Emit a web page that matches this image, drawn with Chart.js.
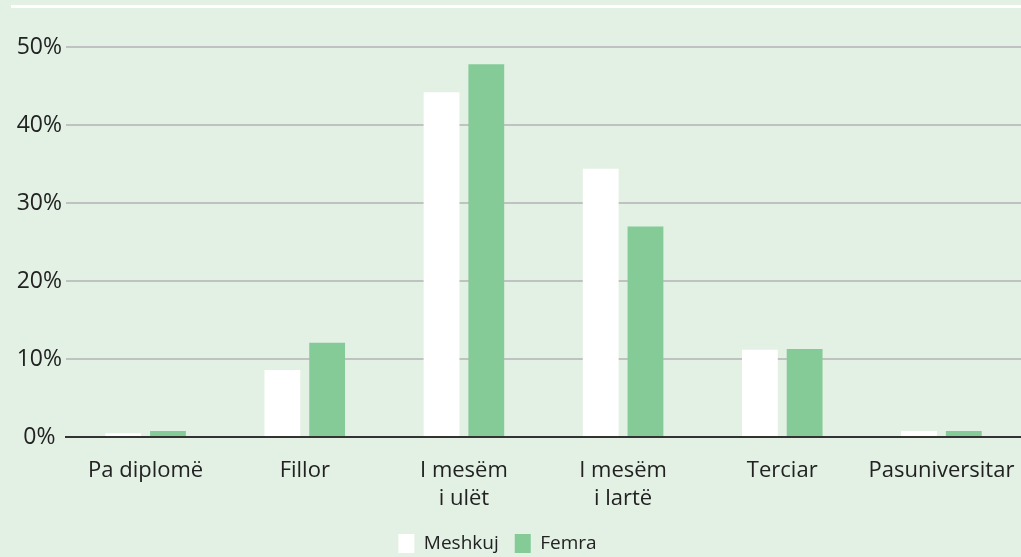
<!DOCTYPE html>
<html>
<head>
<meta charset="utf-8">
<script src="https://cdn.jsdelivr.net/npm/chart.js@4"></script>
<style>
  html, body { margin: 0; padding: 0; background: #e3f0e4; }
  #wrap { position: relative; width: 1021px; height: 557px; }
  #topline { position: absolute; left: 11px; right: 0; top: 5px; height: 3px; background: #ffffff; }
  canvas { position: absolute; left: 0; top: 0; }
</style>
</head>
<body>
<div id="wrap">
  <div id="topline"></div>
  <canvas id="chart" width="1021" height="557"></canvas>
</div>
<script>
/* Niveli arsimor sipas gjinisë */
const KATEGORITE = ["Pa diplomë", "Fillor", ["I mesëm", "i ulët"], ["I mesëm", "i lartë"], "Terciar", "Pasuniversitar"];
const MESHKUJ = [0.5, 8.6, 44.2, 34.4, 11.2, 0.8];
const FEMRA = [0.8, 12.1, 47.8, 27.0, 11.3, 0.8];
const Y_TICKS = [0, 10, 20, 30, 40, 50];

const COR = {
  white: "#ffffff",
  green: "#84cb98",
  grid: "#bfc2c0",
  axis: "#333333",
  text: "#222222",
};

Chart.defaults.font.family = "'Open Sans', 'Noto Sans', sans-serif";
Chart.defaults.font.size = 22;
Chart.defaults.color = COR.text;

// legenda pak majtas, si në origjinal
const legendShift = {
  id: "legendShift",
  afterLayout(chart) {
    chart.legend.right -= 38;
  },
};

new Chart(document.getElementById("chart"), {
  type: "bar",
  data: {
    labels: KATEGORITE,
    datasets: [
      { label: "Meshkuj", data: MESHKUJ, backgroundColor: COR.white, borderWidth: 0 },
      { label: "Femra", data: FEMRA, backgroundColor: COR.green, borderWidth: 0 },
    ],
  },
  plugins: [legendShift],
  options: {
    responsive: false,
    animation: false,
    categoryPercentage: 0.5625,
    barPercentage: 0.8,
    layout: { padding: { left: 12, right: 0, top: 47, bottom: -6 } },
    plugins: {
      tooltip: { enabled: false },
      legend: {
        position: "bottom",
        labels: { boxWidth: 16, boxHeight: 19, padding: 16, color: COR.text, font: { size: 19 } },
      },
    },
    scales: {
      x: {
        grid: { display: false, drawTicks: false },
        border: { color: COR.axis, width: 2 },
        afterFit: (s) => { s.paddingLeft = 0; s.paddingRight = 0; s.height -= 15; },
        ticks: { padding: 20, maxRotation: 0, autoSkip: false, font: { size: 22, lineHeight: 1.27 } },
      },
      y: {
        min: 0,
        max: 50,
        afterBuildTicks: (s) => { s.ticks = Y_TICKS.map((v) => ({ value: v })); },
        afterFit: (s) => { s.width = 54; },
        border: { display: false },
        grid: {
          drawTicks: false,
          lineWidth: 2,
          color: (ctx) => (ctx.tick && ctx.tick.value === 0 ? COR.axis : COR.grid),
        },
        ticks: { padding: 4, crossAlign: "center", callback: (v) => v + "%", font: { size: 23 } },
      },
    },
  },
});
</script>
</body>
</html>
